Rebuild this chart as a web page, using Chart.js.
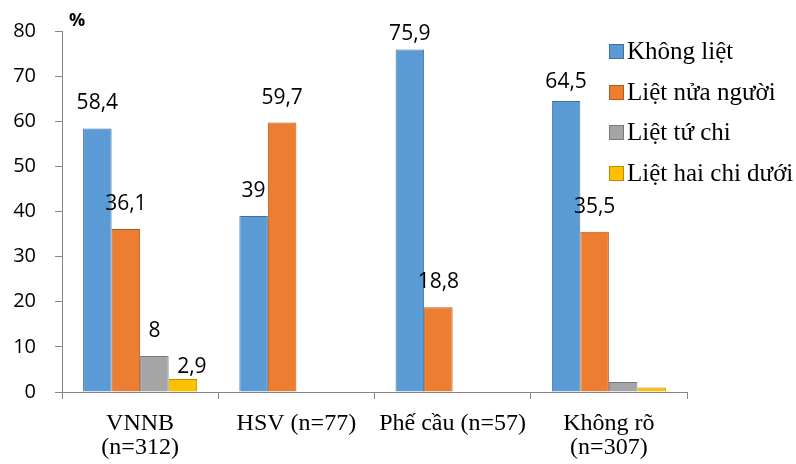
<!DOCTYPE html>
<html>
<head>
<meta charset="utf-8">
<script src="https://cdn.jsdelivr.net/npm/chart.js@4/dist/chart.umd.min.js"></script>
<style>
  html, body { margin: 0; padding: 0; background: #fff; }
  #wrap { width: 796px; height: 464px; }
</style>
</head>
<body>
<div id="wrap"><canvas id="c" width="796" height="464"></canvas></div>
<script>
// Nhóm nguyên nhân (trục hoành)
const categories = [["VNNB", "(n=312)"], "HSV (n=77)", "Phế cầu (n=57)", ["Không rõ", "(n=307)"]];

// Tỷ lệ (%) theo từng nhóm
const khongLiet    = [58.4, 39, 75.9, 64.5];
const lietNuaNguoi = [36.1, 59.7, 18.8, 35.5];
const lietTuChi    = [8, null, null, 2.2];
const lietHaiChi   = [2.9, null, null, 1.0];

// Cột nào có ghi số liệu
const khongLietShown = [true, true, true, true];
const nuaNguoiShown  = [true, true, true, true];
const tuChiShown     = [true, false, false, false];
const haiChiShown    = [true, false, false, false];

const seriesNames = ["Không liệt", "Liệt nửa người", "Liệt tứ chi", "Liệt hai chi dưới"];
const yTicks = [0, 10, 20, 30, 40, 50, 60, 70, 80];

const fills   = ["#5B9BD5", "#ED7D31", "#A5A5A5", "#FFC000"];
const borders = ["#41719C", "#AE5A21", "#787878", "#BC8C00"];
const shown = [khongLietShown, nuaNguoiShown, tuChiShown, haiChiShown];

// Vị trí nhãn số liệu: mặc định cách đỉnh cột 25px, một vài nhãn dịch riêng
const labelShift = { "0-2": [0, 10], "0-3": [0, 6], "3-0": [9, 13] };

const valueLabels = {
  id: "valueLabels",
  afterDatasetsDraw(chart) {
    const ctx = chart.ctx;
    ctx.save();
    ctx.font = "21px 'Open Sans'";
    ctx.fillStyle = "#000";
    ctx.textAlign = "center";
    ctx.textBaseline = "middle";
    chart.data.datasets.forEach((ds, di) => {
      const meta = chart.getDatasetMeta(di);
      meta.data.forEach((el, i) => {
        const v = ds.data[i];
        if (v == null || !shown[di][i]) return;
        const s = labelShift[di + "-" + i] || [0, 0];
        const txt = String(v).replace(".", ",");
        ctx.fillText(txt, el.x + s[0], el.y - 25 + s[1]);
      });
    });
    ctx.restore();
  }
};

const sideLegend = {
  id: "sideLegend",
  afterDraw(chart) {
    const ctx = chart.ctx;
    ctx.save();
    ctx.font = "25px 'Liberation Serif'";
    ctx.textBaseline = "middle";
    ctx.textAlign = "left";
    const rows = [51, 92, 132, 173];
    chart.data.datasets.forEach((ds, di) => {
      const y = rows[di];
      ctx.fillStyle = ds.backgroundColor;
      ctx.fillRect(609, y - 7, 15, 15);
      ctx.strokeStyle = ds.borderColor;
      ctx.lineWidth = 1;
      ctx.strokeRect(609.5, y - 6.5, 14, 14);
      ctx.fillStyle = "#000";
      ctx.fillText(ds.label, 627, y + 1);
    });
    // Đơn vị trục tung
    ctx.font = "bold 18px 'Open Sans'";
    ctx.fillText("%", 69, 21);
    ctx.restore();
  }
};

const seriesData = [khongLiet, lietNuaNguoi, lietTuChi, lietHaiChi];

new Chart(document.getElementById("c"), {
  type: "bar",
  data: {
    labels: categories,
    datasets: seriesData.map((d, i) => ({
      label: seriesNames[i],
      data: d,
      backgroundColor: fills[i],
      borderColor: borders[i],
      borderWidth: 1,
      categoryPercentage: 0.73,
      barPercentage: 1.0
    }))
  },
  options: {
    responsive: false,
    animation: false,
    devicePixelRatio: 1,
    layout: { padding: { top: 20, right: 109, left: 0, bottom: 0 } },
    plugins: { legend: { display: false }, tooltip: { enabled: false } },
    scales: {
      x: {
        afterFit(s) { s.height = 72; },
        grid: { display: true, drawOnChartArea: false, tickLength: 7, color: "#868686", offset: true },
        border: { display: true, color: "#868686" },
        ticks: {
          color: "#000",
          font: { family: "'Liberation Serif'", size: 24, lineHeight: 0.98 },
          padding: 13,
          maxRotation: 0,
          autoSkip: false
        }
      },
      y: {
        min: 0,
        max: 80,
        afterFit(s) { s.width = 62; },
        afterBuildTicks(s) { s.ticks = yTicks.map(v => ({ value: v })); },
        grid: { display: true, drawOnChartArea: false, tickLength: 7, color: "#868686" },
        border: { display: true, color: "#868686" },
        ticks: {
          color: "#000",
          font: { family: "'Open Sans'", size: 20 },
          padding: 19
        }
      }
    }
  },
  plugins: [valueLabels, sideLegend]
});
</script>
</body>
</html>
